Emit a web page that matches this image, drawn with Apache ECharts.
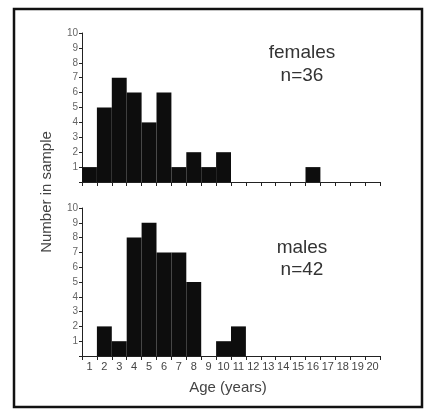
<!DOCTYPE html>
<html>
<head>
<meta charset="utf-8">
<script src="https://cdn.jsdelivr.net/npm/echarts@6/dist/echarts.min.js"></script>
<style>
  html, body { margin: 0; padding: 0; background: #fff; }
  #chart { width: 425px; height: 412px; }
</style>
</head>
<body>
<div id="chart"></div>
<script>
// age classes (years)
var ages = ['1','2','3','4','5','6','7','8','9','10','11','12','13','14','15','16','17','18','19','20'];
// number in sample per age
var females = [1, 5, 7, 6, 4, 6, 1, 2, 1, 2, 0, 0, 0, 0, 0, 1, 0, 0, 0, 0];
var males   = [0, 2, 1, 8, 9, 7, 7, 5, 0, 1, 2, 0, 0, 0, 0, 0, 0, 0, 0, 0];
var yTicks  = [0, 10, 1]; // min, max, interval

var font = 'Liberation Sans, Arial, sans-serif';
var ink = '#222';

function xAxisFor(idx, showLabels) {
    return {
        type: 'category',
        gridIndex: idx,
        data: ages,
        boundaryGap: true,
        axisLine: { lineStyle: { color: ink, width: 1 } },
        axisTick: { show: true, length: 4, lineStyle: { color: ink } },
        axisLabel: { show: showLabels, interval: 0, color: '#444', fontSize: 11, fontFamily: font, margin: 5 },
        splitLine: { show: false }
    };
}

function yAxisFor(idx) {
    return {
        type: 'value',
        gridIndex: idx,
        min: yTicks[0],
        max: yTicks[1],
        interval: yTicks[2],
        axisLine: { show: true, lineStyle: { color: ink, width: 1 } },
        axisTick: { show: true, length: 3, lineStyle: { color: ink } },
        axisLabel: {
            color: '#666', fontSize: 10, fontFamily: font, margin: 4,
            formatter: function (v) { return v === 0 ? '' : v; }
        },
        splitLine: { show: false }
    };
}

var myChart = echarts.init(document.getElementById('chart'));
myChart.setOption({
    animation: false,
    backgroundColor: '#fff',
    grid: [
        { left: 82, top: 33, width: 298, height: 149 },
        { left: 82, top: 208, width: 298, height: 148 }
    ],
    xAxis: [ xAxisFor(0, false), xAxisFor(1, true) ],
    yAxis: [ yAxisFor(0), yAxisFor(1) ],
    series: [
        {
            name: 'females', type: 'bar', xAxisIndex: 0, yAxisIndex: 0,
            data: females, barCategoryGap: '0%',
            itemStyle: { color: '#0d0d0d' }
        },
        {
            name: 'males', type: 'bar', xAxisIndex: 1, yAxisIndex: 1,
            data: males, barCategoryGap: '0%',
            itemStyle: { color: '#0d0d0d' }
        }
    ],
    graphic: [
        // outer frame
        { type: 'rect', shape: { x: 14, y: 9, width: 408, height: 398 },
          style: { fill: 'none', stroke: '#111', lineWidth: 2.5 } },
        { type: 'text', x: 302, y: 53,
          style: { text: 'females', font: '19px ' + font, fill: '#333', align: 'center', verticalAlign: 'middle' } },
        { type: 'text', x: 302, y: 76,
          style: { text: 'n=36', font: '19px ' + font, fill: '#333', align: 'center', verticalAlign: 'middle' } },
        { type: 'text', x: 302, y: 248,
          style: { text: 'males', font: '19px ' + font, fill: '#333', align: 'center', verticalAlign: 'middle' } },
        { type: 'text', x: 302, y: 270,
          style: { text: 'n=42', font: '19px ' + font, fill: '#333', align: 'center', verticalAlign: 'middle' } },
        { type: 'text', x: 228, y: 388,
          style: { text: 'Age (years)', font: '15px ' + font, fill: '#444', align: 'center', verticalAlign: 'middle' } },
        { type: 'text', x: 47, y: 192, rotation: Math.PI / 2,
          style: { text: 'Number in sample', font: '15px ' + font, fill: '#444', align: 'center', verticalAlign: 'middle' } }
    ]
});
</script>
</body>
</html>
